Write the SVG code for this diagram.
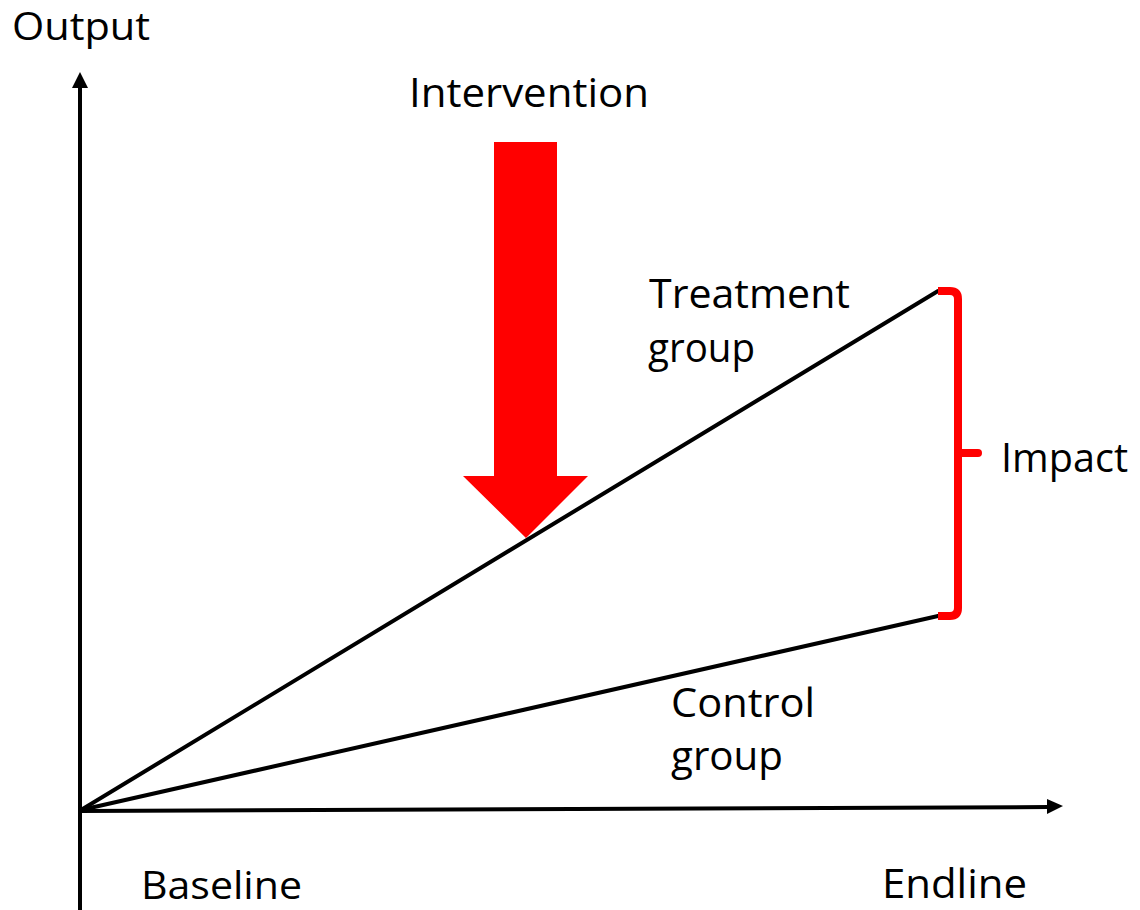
<svg xmlns="http://www.w3.org/2000/svg" width="1140" height="910" viewBox="0 0 1140 910">
  <style>
    .lbl { font-family: "Open Sans", "Noto Sans", "Liberation Sans", sans-serif; font-size: 40px; fill: #000; }
    .edge { font-size: 38px; }
    .ax { stroke: #000; stroke-width: 4; fill: none; }
    .ln { stroke: #000; stroke-width: 4; fill: none; stroke-linecap: round; }
    .brace { stroke: #ff0000; stroke-width: 8; fill: none; }
  </style>
  <rect width="1140" height="910" fill="#fff"/>
  <g id="connectors">
    <g id="y-axis">
      <line class="ax" x1="80" y1="910" x2="80" y2="86"/>
      <polygon points="72,88 88,88 80,72" fill="#000"/>
    </g>
    <g id="x-axis">
      <line class="ax" x1="80" y1="811" x2="1049" y2="807"/>
      <polygon points="1047,799 1063,806 1047,814" fill="#000"/>
    </g>
    <line id="treatment-line" class="ln" x1="81" y1="810" x2="938" y2="291"/>
    <line id="control-line" class="ln" x1="81" y1="810" x2="938" y2="616"/>
  </g>
  <g id="intervention-arrow">
    <polygon points="494,142 557,142 557,476 588,476 526,538 463,476 494,476" fill="#ff0000"/>
  </g>
  <g id="impact-brace">
    <path class="brace" d="M938,291 H950 Q958,291 958,299 V608 Q958,616 950,616 H938"/>
    <path class="brace" d="M958,453 H978" stroke-linecap="round"/>
  </g>
  <g id="labels">
    <text id="output" class="lbl edge" x="12" y="40" textLength="138" lengthAdjust="spacingAndGlyphs">Output</text>
    <text id="intervention" class="lbl" x="409" y="107" textLength="240" lengthAdjust="spacingAndGlyphs">Intervention</text>
    <g id="treatment-group">
      <text class="lbl" x="649" y="308" textLength="201" lengthAdjust="spacingAndGlyphs">Treatment</text>
      <text class="lbl" x="648" y="362" textLength="107" lengthAdjust="spacingAndGlyphs">group</text>
    </g>
    <g id="control-group">
      <text class="lbl" x="671" y="717" textLength="144" lengthAdjust="spacingAndGlyphs">Control</text>
      <text class="lbl" x="671" y="770" textLength="112" lengthAdjust="spacingAndGlyphs">group</text>
    </g>
    <text id="impact" class="lbl" x="1001" y="472" textLength="127" lengthAdjust="spacingAndGlyphs">Impact</text>
    <text id="baseline" class="lbl edge" x="141" y="899" textLength="161" lengthAdjust="spacingAndGlyphs">Baseline</text>
    <text id="endline" class="lbl" x="882" y="898" textLength="145" lengthAdjust="spacingAndGlyphs">Endline</text>
  </g>
</svg>
